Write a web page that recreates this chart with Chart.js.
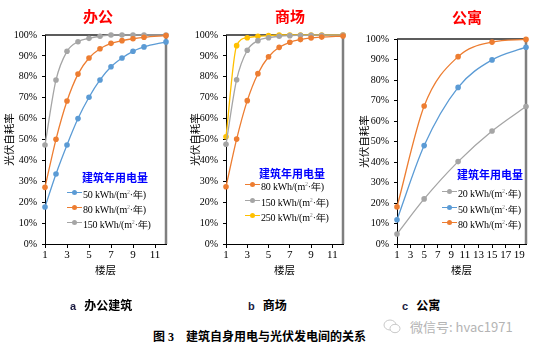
<!DOCTYPE html>
<html lang="zh">
<head>
<meta charset="UTF-8">
<title>建筑自身用电与光伏发电间的关系</title>
<script src="https://cdn.jsdelivr.net/npm/chart.js@4.4.1/dist/chart.umd.min.js"></script>
<style>
  body { margin: 0; background: #fff; }
  #wrap { position: relative; width: 549px; height: 351px; overflow: hidden; font-family: "Noto Sans CJK SC", sans-serif; }
  canvas { position: absolute; top: 0; }
  .ptitle { position: absolute; top: 5px; color: #ff0000; font-weight: bold; font-size: 15px; transform: translateX(-50%); white-space: nowrap; }
  .lg-title { position: absolute; color: #0000ff; font-weight: bold; font-size: 11px; white-space: nowrap; line-height: 14px; }
  .lg-item { position: absolute; height: 14px; white-space: nowrap; }
  .lg-line { position: absolute; left: 0; top: 6.5px; width: 15px; height: 1.3px; }
  .lg-dot { position: absolute; left: 5px; top: 4.5px; width: 5px; height: 5px; border-radius: 50%; }
  .lg-text { position: absolute; left: 16px; top: 0; font-family: "Liberation Serif", serif; font-size: 10px; letter-spacing: -0.2px; line-height: 14px; color: #000; }
  .lg-text sup { font-size: 6px; color: #888; }
  .cap { position: absolute; font-weight: bold; font-size: 12px; color: #000; white-space: nowrap; line-height: 14px; }
  .cap b { font-family: "Liberation Sans", sans-serif; color: #1a1a40; margin-right: 8px; font-size: 11px; }
  .wm { position: absolute; left: 410px; top: 317px; color: #b4b4b4; font-size: 13px; white-space: nowrap; }
</style>
</head>
<body>
<div id="wrap">
  <canvas id="cA" width="180" height="290" style="left:0px;width:180px;height:290px"></canvas>
  <canvas id="cB" width="175" height="290" style="left:183px;width:175px;height:290px"></canvas>
  <canvas id="cC" width="194" height="290" style="left:355px;width:194px;height:290px"></canvas>
</div>
<script>
// 楼层 / 自耗率 (%)
const floorsA = [1, 2, 3, 4, 5, 6, 7, 8, 9, 10, 12];
const officeLow = [17.7, 33.5, 47.4, 60, 70.2, 78.5, 84.8, 89, 92.2, 94.3, 96.7];
const officeMid = [27.1, 50.1, 68.4, 81.3, 89, 93.4, 96, 97.3, 98.2, 98.9, 99.7];
const officeHigh = [47.4, 78.5, 92.2, 96.8, 98.4, 99.4, 100, 100, 100, 100, 100];

const floorsB = [1, 2, 3, 4, 5, 6, 7, 8, 9, 10, 12];
const mallLow = [27.4, 50.2, 68.6, 81.5, 89.6, 94.1, 96.5, 97.8, 98.6, 99.0, 99.5];
const mallMid = [47.7, 78.6, 92.7, 97.3, 98.7, 99.4, 99.7, 99.8, 99.9, 99.9, 100];
const mallHigh = [51.3, 94.9, 98.7, 99.4, 99.7, 100, 100, 100, 100, 100, 100];

const floorsC = [1, 5, 10, 15, 20];
const aptLow = [4.9, 22, 40.2, 55.1, 67.1];
const aptMid = [11.8, 48, 76.4, 89.8, 96];
const aptHigh = [18.1, 67.3, 91.4, 98.5, 99.8];

const xTicksAB = [1, 3, 5, 7, 9, 11];
const xTicksC = [1, 3, 5, 7, 9, 11, 13, 15, 17, 19];
const yTicks = [0, 10, 20, 30, 40, 50, 60, 70, 80, 90, 100];

const blue = '#5b9bd5', orange = '#ed7d31', gray = '#a5a5a5', yellow = '#ffc000';

const frame = {
  id: 'frame',
  beforeDatasetsDraw(chart) {
    const { ctx, chartArea: a } = chart;
    ctx.save();
    ctx.strokeStyle = '#7f7f7f';
    ctx.lineWidth = 2.5;
    ctx.beginPath(); ctx.moveTo(a.right, a.top); ctx.lineTo(a.right, a.bottom); ctx.stroke();
    ctx.strokeStyle = '#262626';
    ctx.lineWidth = 1.5;
    ctx.beginPath(); ctx.moveTo(a.left, a.top); ctx.lineTo(a.right + 1, a.top); ctx.stroke();
    ctx.restore();
  }
};

const serif = { family: 'Liberation Serif', size: 10 };
const cjk = { family: 'Noto Sans CJK SC', size: 10.5 };

function makeChart(id, p) {
  new Chart(document.getElementById(id), {
    type: 'line',
    data: {
      datasets: p.series.map(s => ({
        data: p.floors.map((x, i) => ({ x: x, y: s.values[i] })),
        borderColor: s.color,
        backgroundColor: s.color,
        borderWidth: 1.3,
        pointRadius: 2.8,
        pointBorderWidth: 0,
        cubicInterpolationMode: 'monotone',
        clip: false
      }))
    },
    options: {
      responsive: false,
      animation: false,
      layout: { padding: { top: p.top, right: p.right, left: 0, bottom: 14 } },
      plugins: { legend: { display: false }, tooltip: { enabled: false } },
      scales: {
        x: {
          type: 'linear', min: 1, max: p.xmax,
          afterBuildTicks: s => { s.ticks = p.xTicks.map(v => ({ value: v })); },
          afterFit: s => { s.height = 32; },
          grid: { drawOnChartArea: false, drawTicks: true, tickLength: 4, color: '#000' },
          border: { color: '#000', width: 1 },
          ticks: { font: { family: 'Liberation Serif', size: 11 }, color: '#000', padding: 1, maxRotation: 0, autoSkip: false },
          title: { display: true, text: '楼层', font: cjk, color: '#000', padding: { top: 2, bottom: 0 } }
        },
        y: {
          min: 0, max: 100,
          afterBuildTicks: s => { s.ticks = yTicks.map(v => ({ value: v })); },
          afterFit: s => { s.width = p.yw; },
          grid: { drawOnChartArea: false, drawTicks: true, tickLength: 3, color: '#000' },
          border: { color: '#000', width: 1 },
          ticks: { font: serif, color: '#000', padding: 5, callback: v => v + '%' },
          title: { display: true, text: '光伏自耗率', font: cjk, color: '#000', padding: { top: p.ytp, bottom: 0 } }
        }
      }
    },
    plugins: [frame]
  });
}

makeChart('cA', {
  floors: floorsA, xmax: 12, xTicks: xTicksAB, yw: 45, top: 35, right: 14, ytp: 3,
  series: [{ values: officeLow, color: blue }, { values: officeMid, color: orange }, { values: officeHigh, color: gray }]
});
makeChart('cB', {
  floors: floorsB, xmax: 12, xTicks: xTicksAB, yw: 43, top: 35, right: 15, ytp: 6,
  series: [{ values: mallLow, color: orange }, { values: mallMid, color: gray }, { values: mallHigh, color: yellow }]
});
makeChart('cC', {
  floors: floorsC, xmax: 20, xTicks: xTicksC, yw: 42, top: 39, right: 23, ytp: 3,
  series: [{ values: aptLow, color: gray }, { values: aptMid, color: blue }, { values: aptHigh, color: orange }]
});

// overlay text: panel titles, legends, captions
const wrap = document.getElementById('wrap');
function add(cls, html, style) {
  const d = document.createElement('div');
  d.className = cls;
  d.innerHTML = html;
  Object.assign(d.style, style);
  wrap.appendChild(d);
  return d;
}
add('ptitle', '办公', { left: '98px' });
add('ptitle', '商场', { left: '290px' });
add('ptitle', '公寓', { left: '467px', top: '6px' });

function legend(x, titleX, titleY, rows, items) {
  add('lg-title', '建筑年用电量', { left: titleX + 'px', top: (titleY - 7) + 'px' });
  items.forEach((it, i) => {
    const d = add('lg-item', '', { left: x + 'px', top: (rows[i] - 7) + 'px' });
    d.innerHTML = '<div class="lg-line" style="background:' + it.color + '"></div>' +
      '<div class="lg-dot" style="background:' + it.color + '"></div>' +
      '<div class="lg-text">' + it.kwh + ' kWh/(m<sup>2</sup>·年)</div>';
  });
}
legend(67, 82, 177, [192, 207, 222], [{ kwh: 50, color: blue }, { kwh: 80, color: orange }, { kwh: 150, color: gray }]);
legend(245, 259, 173, [184, 200, 215], [{ kwh: 80, color: orange }, { kwh: 150, color: gray }, { kwh: 250, color: yellow }]);
legend(442, 457, 174, [191, 207, 222], [{ kwh: 20, color: gray }, { kwh: 50, color: blue }, { kwh: 80, color: orange }]);

add('cap', '<b>a</b>办公建筑', { left: '70px', top: '298px' });
add('cap', '<b>b</b>商场', { left: '248px', top: '298px' });
add('cap', '<b>c</b>公寓', { left: '402px', top: '298px' });
add('cap', '图<span style="font-family:Liberation Serif;margin:0 12px 0 3px">3</span>建筑自身用电与光伏发电间的关系', { left: '153px', top: '329px' });
add('wm', '<svg width="18" height="15" style="position:absolute;left:-27px;top:2px" viewBox="0 0 18 15"><ellipse cx="7" cy="6" rx="6" ry="5" fill="none" stroke="#c8c8c8" stroke-width="1"/><ellipse cx="12" cy="9.5" rx="5" ry="4.2" fill="#fff" stroke="#c8c8c8" stroke-width="1"/></svg>微信号: hvac1971', {});
</script>
</body>
</html>
